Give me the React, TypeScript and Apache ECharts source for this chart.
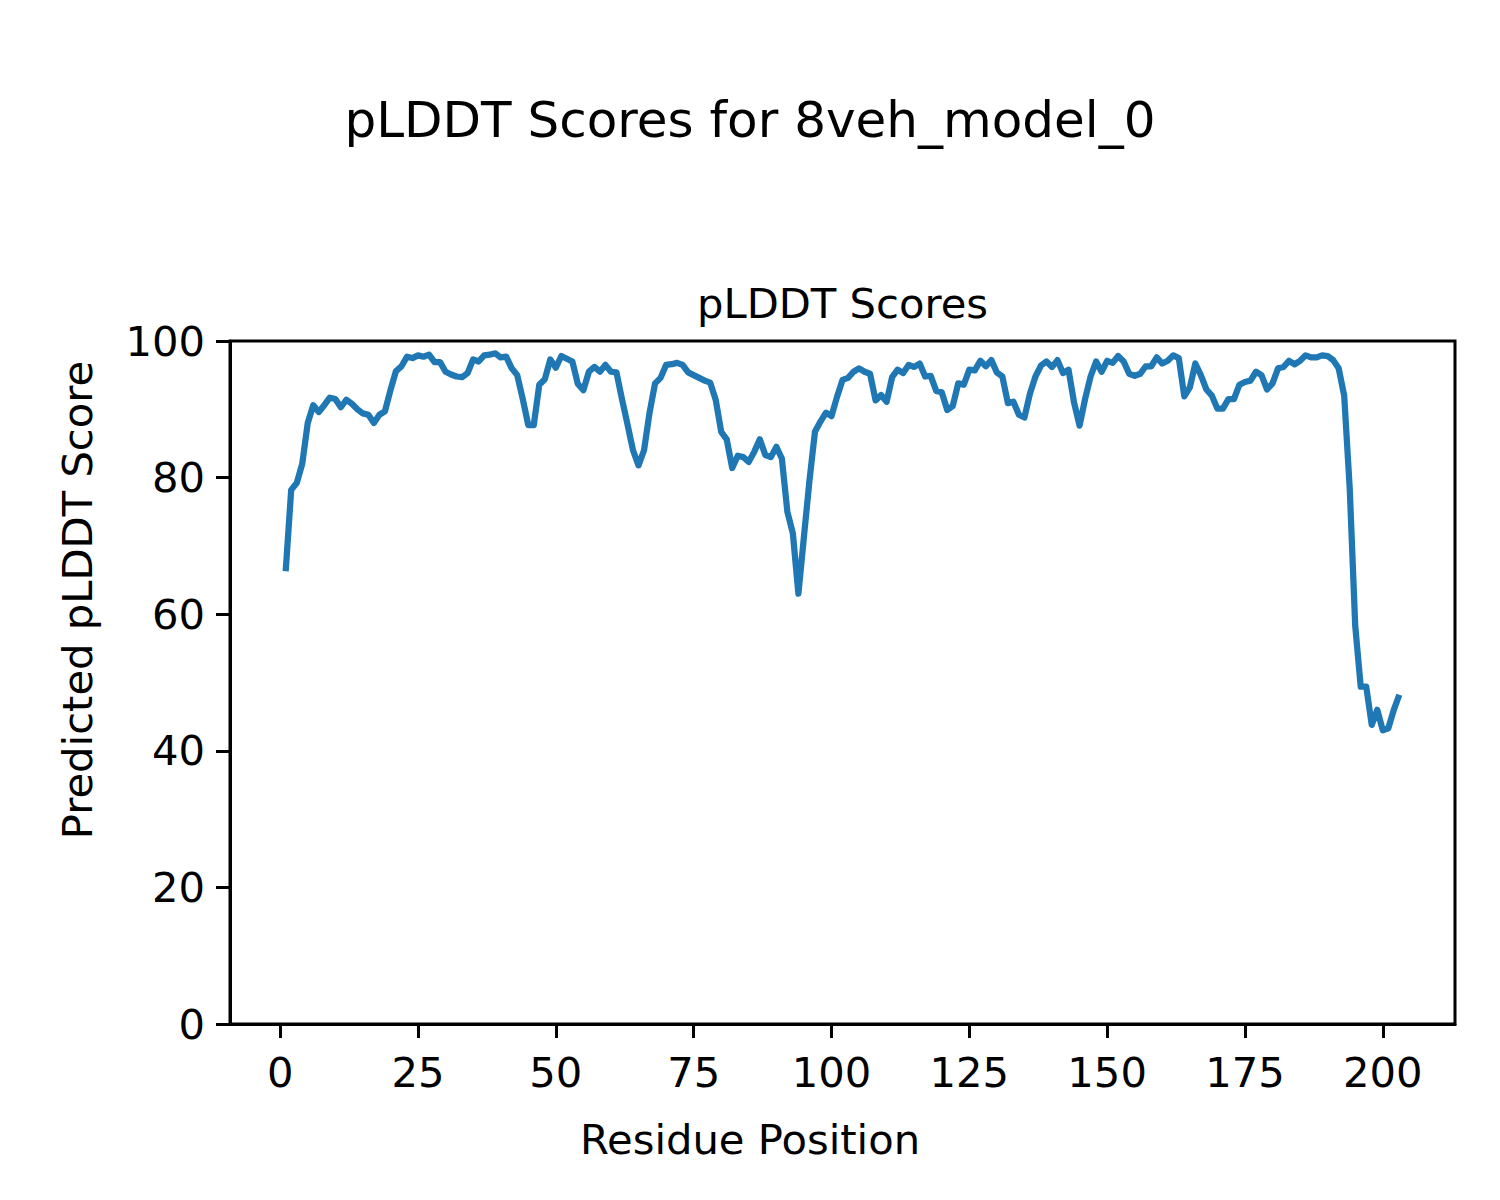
import React, { useEffect, useRef } from "react";
import * as echarts from "echarts";

const residues: number[] = Array.from({ length: 203 }, (_, i) => i + 1);

const plddt: number[] = [
  66.3, 78.2, 79.2, 82.0, 88.0, 90.6, 89.6, 90.6, 91.7, 91.5,
  90.3, 91.4, 90.8, 90.0, 89.4, 89.2, 88.0, 89.2, 89.7, 92.8,
  95.6, 96.3, 97.7, 97.5, 97.9, 97.7, 98.0, 96.9, 96.9, 95.5,
  95.1, 94.8, 94.7, 95.3, 97.3, 97.0, 97.9, 98.0, 98.2, 97.6,
  97.7, 96.0, 95.0, 91.5, 87.7, 87.7, 93.6, 94.4, 97.3, 96.1,
  97.8, 97.4, 97.0, 93.7, 92.8, 95.5, 96.2, 95.5, 96.5, 95.5,
  95.4, 91.5, 87.8, 84.0, 81.8, 84.0, 89.5, 93.8, 94.6, 96.5,
  96.6, 96.8, 96.5, 95.4, 95.0, 94.6, 94.2, 93.9, 91.4, 86.7,
  85.6, 81.4, 83.2, 83.0, 82.3, 83.8, 85.6, 83.3, 83.0, 84.5,
  82.8, 75.0, 71.8, 63.0, 71.3, 79.5, 86.7, 88.2, 89.5, 89.0,
  91.8, 94.3, 94.6, 95.5, 96.0, 95.5, 95.2, 91.3, 92.1, 91.1,
  94.7, 95.8, 95.3, 96.5, 96.2, 96.7, 94.8, 94.9, 92.7, 92.5,
  89.9, 90.5, 93.8, 93.6, 95.8, 95.7, 97.1, 96.3, 97.2, 95.4,
  94.8, 90.9, 91.1, 89.2, 88.8, 92.3, 94.8, 96.4, 97.0, 96.2,
  97.2, 95.3, 95.8, 91.0, 87.6, 91.5, 94.8, 97.0, 95.5, 97.1,
  96.8, 97.8, 97.0, 95.2, 94.9, 95.2, 96.3, 96.3, 97.6, 96.7,
  97.1, 97.9, 97.5, 91.9, 93.2, 96.7, 95.0, 92.9, 92.0, 90.1,
  90.1, 91.5, 91.5, 93.6, 94.0, 94.2, 95.5, 95.0, 92.9, 93.8,
  96.0, 96.2, 97.1, 96.6, 97.1, 97.9, 97.6, 97.6, 97.9, 97.8,
  97.2, 96.0, 92.0, 78.5, 58.3, 49.4, 49.4, 43.8, 46.0, 43.0,
  43.3, 46.0, 48.2,
];

const xTicks: number[] = [0, 25, 50, 75, 100, 125, 150, 175, 200];
const yTicks: number[] = [0, 20, 40, 60, 80, 100];

const suptitle = "pLDDT Scores for 8veh_model_0";
const axTitle = "pLDDT Scores";
const xLabel = "Residue Position";
const yLabel = "Predicted pLDDT Score";

const FONT = "DejaVu Sans";

export default function App() {
  const ref = useRef<HTMLDivElement>(null);
  useEffect(() => {
    document.body.style.margin = "0";
    const chart = echarts.init(ref.current!, null, { renderer: "svg" });
    const xMin = 1 - 0.05 * 202;
    const xMax = 203 + 0.05 * 202;
    chart.setOption({
      animation: false,
      backgroundColor: "#ffffff",
      grid: {
        left: 230,
        right: 45,
        top: 341,
        bottom: 176,
        show: true,
        borderColor: "#000",
        borderWidth: 3,
        backgroundColor: "transparent",
      },
      xAxis: {
        type: "value",
        min: xMin,
        max: xMax,
        axisLine: { show: true, onZero: false, lineStyle: { color: "#000", width: 3 } },
        splitLine: { show: false },
        axisTick: {
          show: true,
          length: 14,
          inside: false,
          lineStyle: { color: "#000", width: 3 },
          customValues: xTicks,
        },
        axisLabel: {
          show: true,
          margin: 27,
          fontSize: 41.7,
          fontFamily: FONT,
          color: "#000",
          customValues: xTicks,
        },
      },
      yAxis: {
        type: "value",
        min: 0,
        max: 100,
        interval: 20,
        axisLine: { show: true, onZero: false, lineStyle: { color: "#000", width: 3 } },
        splitLine: { show: false },
        axisTick: {
          show: true,
          length: 14,
          inside: false,
          lineStyle: { color: "#000", width: 3 },
          customValues: yTicks,
        },
        axisLabel: {
          show: true,
          margin: 25,
          fontSize: 41.7,
          fontFamily: FONT,
          color: "#000",
          customValues: yTicks,
        },
      },
      series: [
        {
          type: "line",
          data: residues.map((r, i) => [r, plddt[i]]),
          showSymbol: false,
          symbol: "none",
          lineStyle: { color: "#1f77b4", width: 6.25, join: "round", cap: "butt" },
          z: 3,
        },
      ],
      graphic: [
        {
          type: "text",
          x: 750,
          y: 120,
          style: {
            text: suptitle,
            fontSize: 50,
            fontFamily: FONT,
            fill: "#000",
            align: "center",
            verticalAlign: "middle",
          },
        },
        {
          type: "text",
          x: 842.5,
          y: 303,
          style: {
            text: axTitle,
            fontSize: 41.7,
            fontFamily: FONT,
            fill: "#000",
            align: "center",
            verticalAlign: "middle",
          },
        },
        {
          type: "text",
          x: 750,
          y: 1139,
          style: {
            text: xLabel,
            fontSize: 41.7,
            fontFamily: FONT,
            fill: "#000",
            align: "center",
            verticalAlign: "middle",
          },
        },
        {
          type: "text",
          x: 77,
          y: 600,
          rotation: Math.PI / 2,
          style: {
            text: yLabel,
            fontSize: 41.7,
            fontFamily: FONT,
            fill: "#000",
            align: "center",
            verticalAlign: "middle",
          },
        },
      ],
    });
    return () => chart.dispose();
  }, []);
  return <div ref={ref} style={{ width: 1500, height: 1200 }} />;
}
